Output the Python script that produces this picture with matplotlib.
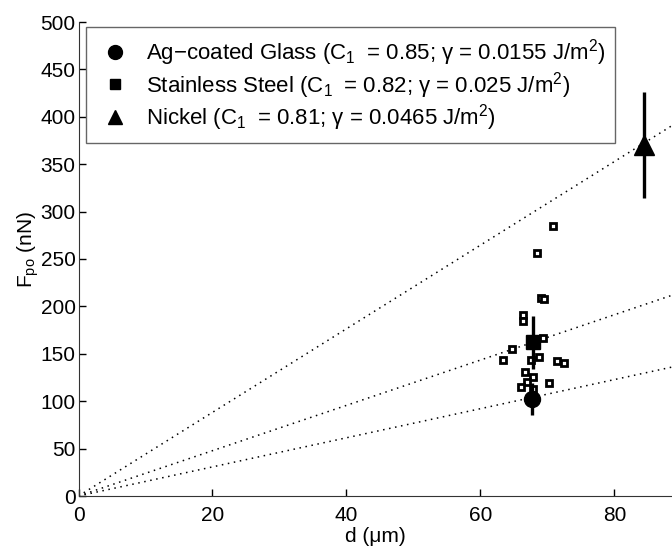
import numpy as np
import matplotlib.pyplot as plt
from matplotlib.lines import Line2D

plt.rcParams["font.family"] = ["Liberation Sans", "DejaVu Sans"]
plt.rcParams["mathtext.fontset"] = "custom"
plt.rcParams["mathtext.rm"] = "Liberation Sans"
plt.rcParams["mathtext.it"] = "Liberation Sans:italic"
plt.rcParams["font.size"] = 15

# individual stainless steel pull-off measurements
ss_d = [70.9, 68.5, 69.0, 69.5, 66.4, 66.4, 69.3, 64.7, 63.4, 67.5, 68.8,
        71.5, 72.5, 66.6, 67.8, 66.9, 70.2, 66.1, 67.9]
ss_F = [285, 256, 209, 207.5, 191, 185, 167, 155, 143, 143.5, 147,
        142, 140, 130.5, 126, 120.6, 119.5, 114.7, 113]

# mean values with standard deviation
labels = ["Ag\u2212coated Glass (C$_1\\;$ = 0.85; \u03b3 = 0.0155 J/m$^2$)",
          "Stainless Steel (C$_1\\;$ = 0.82; \u03b3 = 0.025 J/m$^2$)",
          "Nickel (C$_1\\;$ = 0.81; \u03b3 = 0.0465 J/m$^2$)"]
mean_d = [67.7, 67.8, 84.4]
mean_F = [102, 162, 370]
std_F = [17, 28, 56]
markers = ["o", "s", "^"]
msizes = [11.5, 9.5, 14]

# model slopes F/d (nN per um)
slopes = [1.535, 2.39, 4.41]

fig = plt.figure(figsize=(6.72, 5.49), dpi=100)
ax = fig.add_axes([78.5 / 672, 53 / 549, 1 - 78.5 / 672, 474 / 549])

d_line = np.array([0, 88.6])
for s in slopes:
    ax.plot(d_line, s * d_line, color="black", linestyle=(0, (1, 3)), linewidth=1.1)

ax.plot(ss_d, ss_F, "s", markersize=5, markerfacecolor="white",
        markeredgecolor="black", markeredgewidth=2.0, linestyle="none")

handles = []
for i in range(3):
    ax.errorbar(mean_d[i], mean_F[i], yerr=std_F[i], fmt="none",
                ecolor="black", elinewidth=2.4, capsize=0)
    ax.plot(mean_d[i], mean_F[i], markers[i], markersize=msizes[i], color="black")
    handles.append(Line2D([], [], marker=markers[i], color="black", linestyle="none",
                          markersize=[10, 7.5, 10.5][i]))

leg = ax.legend(handles, labels, loc="upper left",
                bbox_to_anchor=(86 / 672, 1 - 27 / 549), bbox_transform=fig.transFigure,
                borderaxespad=0, fancybox=False, framealpha=1, edgecolor="#666666",
                handletextpad=0.5, labelspacing=0.08, borderpad=0.45, handlelength=1.75,
                fontsize=16)
leg.get_frame().set_linewidth(1.0)

ax.set_xlim(0, 88.6)
ax.set_ylim(0, 500)
ax.set_xticks([0, 20, 40, 60, 80])
ax.set_yticks(np.arange(0, 501, 50))
ax.tick_params(direction="in", length=5, width=1)
ax.tick_params(axis="x", pad=7)
ax.tick_params(axis="y", pad=2)
for side in ["top", "right"]:
    ax.spines[side].set_visible(False)
ax.spines["left"].set_color("#333333")
ax.spines["bottom"].set_color("#333333")

ax.set_xlabel("d (\u03bcm)", labelpad=2)
fig.text(28 / 672, 1 - 250 / 549, "F$_{\\mathrm{po}}$ (nN)", rotation=90,
         ha="center", va="center", fontsize=15)

fig.savefig("out.png", dpi=100)
